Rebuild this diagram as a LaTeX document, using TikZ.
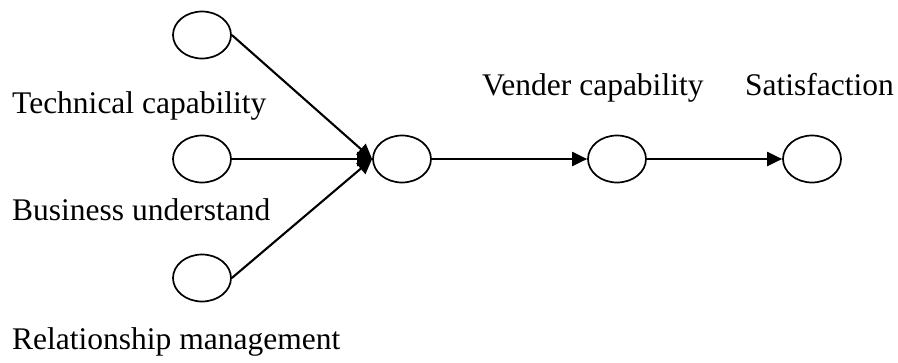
\documentclass[tikz,border=0pt]{standalone}
\usepackage{fontspec}
\setmainfont{Liberation Serif}
\usetikzlibrary{arrows.meta,shapes.geometric}
\begin{document}
\begin{tikzpicture}[x=1pt,y=-1pt,
  oval/.style={draw,ellipse,line width=1.7pt,minimum width=58pt,minimum height=47pt,inner sep=0pt},
  lbl/.style={inner sep=0pt,anchor=base west,font=\fontsize{31.5}{31.5}\selectfont},
  conn/.style={line width=2.1pt,-{Triangle[length=15pt,width=14pt]}}]
\useasboundingbox (0,0) rectangle (898,362);
\node[oval] (t) at (202,35) {};
\node[oval] (b) at (202,159) {};
\node[oval] (r) at (202,278) {};
\node[oval] (m) at (402,159) {};
\node[oval] (v) at (617,159) {};
\node[oval] (s) at (812,159) {};
\node[lbl] (lt) at (12,113) {Technical capability};
\node[lbl] (lb) at (12,220) {Business understand};
\node[lbl] (lr) at (12,349) {Relationship management};
\node[lbl] (lv) at (482,95) {Vender capability};
\node[lbl] (ls) at (745,95) {Satisfaction};
\draw[conn] (t.east) -- (m.west);
\draw[conn] (b.east) -- (m.west);
\draw[conn] (r.east) -- (m.west);
\draw[conn] (m.east) -- (v.west);
\draw[conn] (v.east) -- (s.west);
\end{tikzpicture}
\end{document}
